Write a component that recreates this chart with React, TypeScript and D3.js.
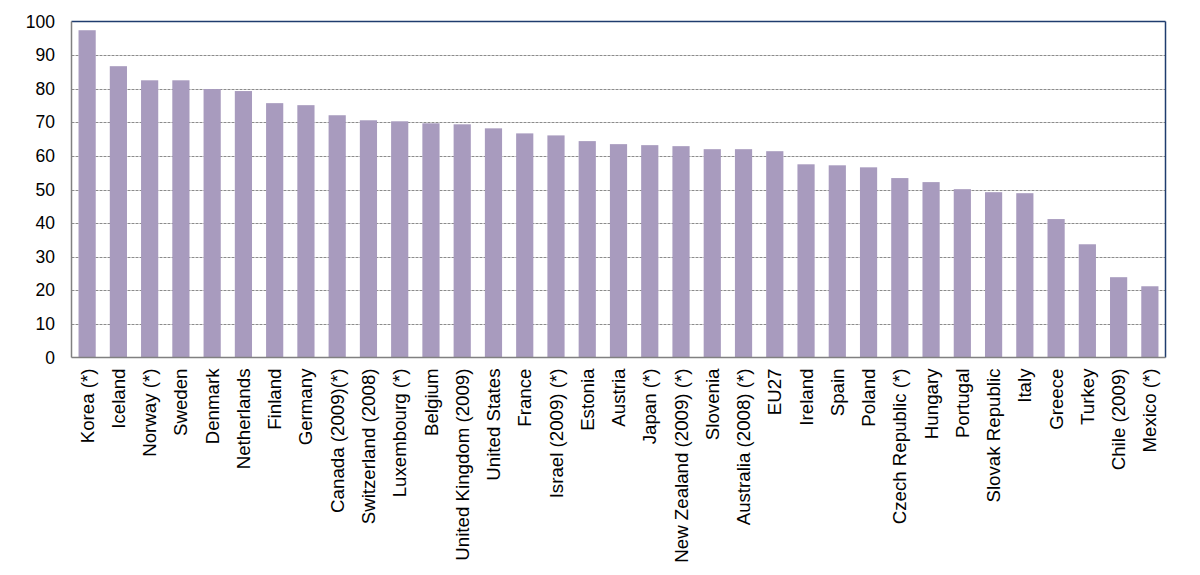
import React from "react";
import * as d3 from "d3";

const categories: string[] = [
  "Korea (*)", "Iceland", "Norway (*)", "Sweden", "Denmark", "Netherlands", "Finland", "Germany",
  "Canada (2009)(*)", "Switzerland (2008)", "Luxembourg (*)", "Belgium", "United Kingdom (2009)",
  "United States", "France", "Israel (2009) (*)", "Estonia", "Austria", "Japan (*)",
  "New Zealand (2009) (*)", "Slovenia", "Australia (2008) (*)", "EU27", "Ireland", "Spain", "Poland",
  "Czech Republic (*)", "Hungary", "Portugal", "Slovak Republic", "Italy", "Greece", "Turkey",
  "Chile (2009)", "Mexico (*)",
];

const values: number[] = [
  97.4, 86.7, 82.5, 82.5, 79.9, 79.3, 75.7, 75.1,
  72.1, 70.6, 70.3, 69.7, 69.4,
  68.2, 66.7, 66.1, 64.4, 63.5, 63.2,
  62.9, 62.0, 62.0, 61.4, 57.5, 57.2, 56.6,
  53.4, 52.2, 50.1, 49.2, 48.9, 41.2, 33.7,
  23.9, 21.2,
];

const yTicks: number[] = [0, 10, 20, 30, 40, 50, 60, 70, 80, 90, 100];

const W = 1200;
const H = 575;
const left = 71.5;
const right = 1165.5;
const top = 21.5;
const bottom = 357.5;
const font = "'Liberation Sans', Arial, sans-serif";

export default function App() {
  const x = d3.scaleBand<string>().domain(categories).range([left, right]).paddingInner(0.45).paddingOuter(0.225);
  const y = d3.scaleLinear().domain([0, 100]).range([bottom, top]);

  return (
    <svg width={W} height={H} style={{ position: "absolute", left: 0, top: 0, background: "#fff" }}>
      {yTicks.filter((t) => t > 0 && t < 100).map((t) => (
        <line key={"g" + t} x1={left} x2={right} y1={Math.round(y(t)) + 0.5} y2={Math.round(y(t)) + 0.5}
          stroke="#8c8c8c" strokeWidth={1} strokeDasharray="3,1" />
      ))}
      {categories.map((c, i) => (
        <rect key={c} x={x(c)!} width={x.bandwidth()} y={y(values[i])} height={bottom - y(values[i])} fill="#A89BBE" />
      ))}
      <line x1={left} x2={right} y1={top} y2={top} stroke="#1F3C6E" strokeWidth={1.5} />
      <line x1={right} x2={right} y1={top} y2={bottom} stroke="#1F3C6E" strokeWidth={1.5} />
      <line x1={left} x2={left} y1={top} y2={bottom} stroke="#808080" strokeWidth={1.5} />
      <line x1={left} x2={right} y1={bottom} y2={bottom} stroke="#808080" strokeWidth={1.5} />
      {yTicks.map((t) => (
        <text key={"t" + t} x={55} y={y(t)} dy="0.35em" textAnchor="end" fontFamily={font} fontSize={17.5} fill="#000">
          {t}
        </text>
      ))}
      {categories.map((c) => {
        const cx = x(c)! + x.bandwidth() / 2;
        return (
          <text key={"l" + c} transform={`translate(${cx},${bottom + 11}) rotate(-90)`} textAnchor="end" dy="0.35em"
            fontFamily={font} fontSize={18.7} fill="#000">
            {c}
          </text>
        );
      })}
    </svg>
  );
}
